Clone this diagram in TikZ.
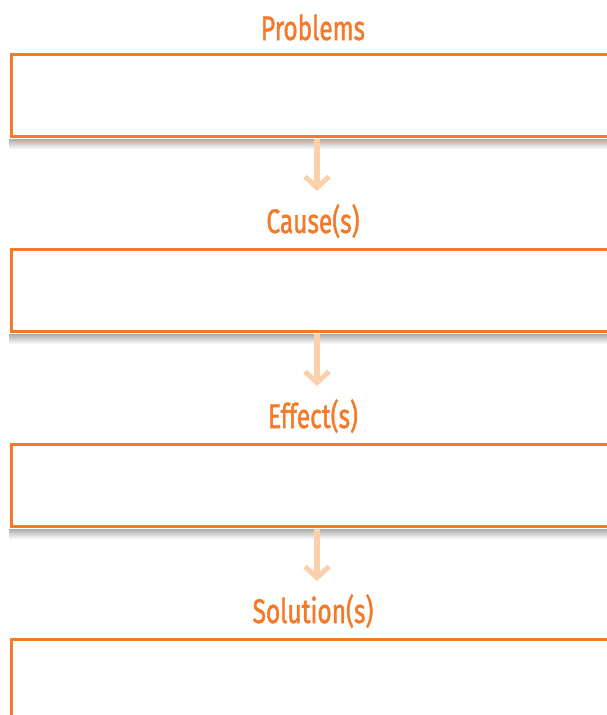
\documentclass[tikz,border=0pt]{standalone}
\usepackage{fontspec}
\setmainfont{Fira Sans}
\newfontfamily\headfont[FakeBold=1.6]{Fira Sans}
\usetikzlibrary{arrows.meta}
\definecolor{boxorange}{HTML}{F47A2A}
\definecolor{arrowpeach}{HTML}{FDD0AC}
\begin{document}
\begin{tikzpicture}[x=1pt,y=-1pt,
  framebox/.style={draw=boxorange,line width=2.8pt,fill=white,minimum width=600pt,minimum height=82pt,anchor=north west,inner sep=0pt},
  boxshadow/.style={top color=black!32,bottom color=white,draw=none},
  heading/.style={text=boxorange,font=\headfont\fontsize{34}{36}\selectfont,xscale=0.72,inner sep=0pt,anchor=base},
  flowarrow/.style={draw=arrowpeach,line width=6pt,-{Straight Barb[length=11pt,width=24pt,line width=5pt]}}]
\useasboundingbox (0,0) rectangle (607,715);
\clip (0,0) rectangle (607,715);
\fill[white] (0,0) rectangle (607,715);
\node[heading] (t1) at (313,40) {Problems};
\node[framebox] (b1) at (10,53) {};
\node[heading] (t2) at (313,233) {Cause(s)};
\node[framebox] (b2) at (10,248) {};
\node[heading] (t3) at (313,428) {Effect(s)};
\node[framebox] (b3) at (10,443) {};
\node[heading] (t4) at (313,623) {Solution(s)};
\node[framebox] (b4) at (10,638) {};
\foreach \b in {b1,b2,b3}{
  \shade[boxshadow] ([xshift=-1pt,yshift=-1.4pt]\b.south west) rectangle ++(602,10);
}
\coordinate (a1e) at (317,191);
\coordinate (a2e) at (317,386);
\coordinate (a3e) at (317,581);
\draw[flowarrow] (b1.south -| a1e) ++(0,1.4) -- (a1e);
\draw[flowarrow] (b2.south -| a2e) ++(0,1.4) -- (a2e);
\draw[flowarrow] (b3.south -| a3e) ++(0,1.4) -- (a3e);
\end{tikzpicture}
\end{document}
